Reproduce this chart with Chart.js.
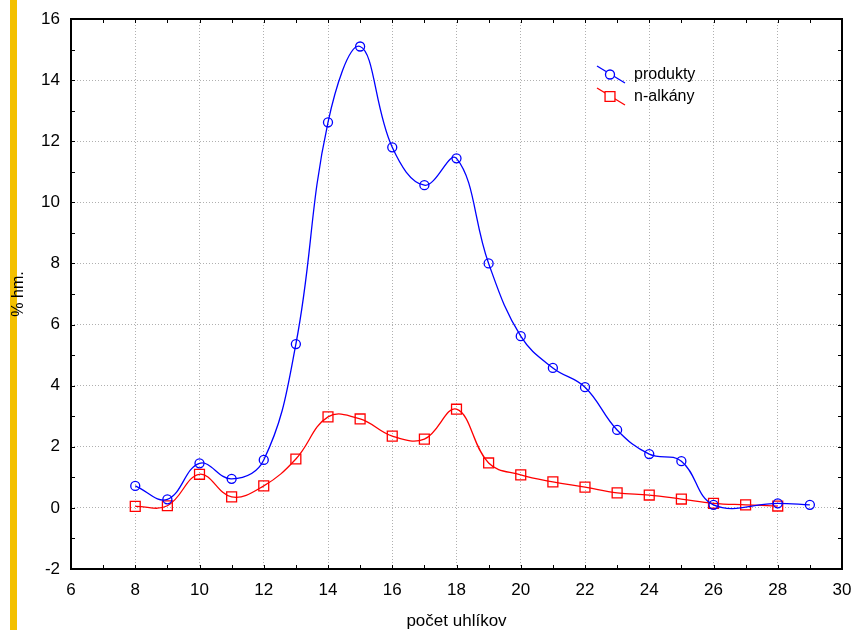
<!DOCTYPE html>
<html>
<head>
<meta charset="utf-8">
<script src="https://cdn.jsdelivr.net/npm/chart.js@4/dist/chart.umd.min.js"></script>
<style>
  html, body { margin: 0; padding: 0; background: #fff; }
  canvas { display: block; }
</style>
</head>
<body>
<canvas id="graf" width="854" height="630"></canvas>
<script>
// počet uhlíkov (x) a hodnoty v % hm.
var uhlikyProdukty = [8, 9, 10, 11, 12, 13, 14, 15, 16, 17, 18, 19, 20, 21, 22, 23, 24, 25, 26, 28, 29];
var produkty = [0.72, 0.28, 1.46, 0.95, 1.57, 5.36, 12.62, 15.1, 11.8, 10.56, 11.44, 8.0, 5.62, 4.58, 3.95, 2.55, 1.76, 1.53, 0.1, 0.15, 0.1];

var uhlikyAlkany = [8, 9, 10, 11, 12, 13, 14, 15, 16, 17, 18, 19, 20, 21, 22, 23, 24, 25, 26, 27, 28];
var nAlkany = [0.05, 0.07, 1.1, 0.36, 0.72, 1.6, 2.98, 2.91, 2.35, 2.25, 3.23, 1.47, 1.08, 0.85, 0.68, 0.49, 0.42, 0.29, 0.15, 0.1, 0.06];

var nazvySerii = ["produkty", "n-alkány"];
var osX = { min: 6, max: 30, krok: 1 };
var osY = { min: -2, max: 16, krok: 1 };

function body(xs, ys) {
    return xs.map(function (x, i) { return { x: x, y: ys[i] }; });
}

function mriezka(ctx) {
    return ctx.tick && ctx.tick.value % 2 === 0 ? "#b0b0b0" : "rgba(0,0,0,0)";
}

function popis(value) {
    return value % 2 === 0 ? value : "";
}

// zlty pruh vlavo
var pruhPlugin = {
    id: "pruh",
    beforeDraw: function (chart) {
        var ctx = chart.ctx;
        ctx.save();
        ctx.fillStyle = "#fff";
        ctx.fillRect(0, 0, chart.width, chart.height);
        ctx.fillStyle = "#f3c000";
        ctx.fillRect(10, 0, 7, chart.height);
        ctx.restore();
    }
};

// ramik grafu a kratke ciarky dovnutra
var ramikPlugin = {
    id: "ramik",
    afterDraw: function (chart) {
        var ctx = chart.ctx;
        var a = chart.chartArea;
        var sx = chart.scales.x, sy = chart.scales.y;
        ctx.save();
        ctx.strokeStyle = "#000";
        ctx.lineWidth = 1;
        ctx.beginPath();
        sx.ticks.forEach(function (t) {
            var px = Math.round(sx.getPixelForValue(t.value)) + 0.5;
            ctx.moveTo(px, a.bottom); ctx.lineTo(px, a.bottom - 4);
            ctx.moveTo(px, a.top); ctx.lineTo(px, a.top + 4);
        });
        sy.ticks.forEach(function (t) {
            var py = Math.round(sy.getPixelForValue(t.value)) + 0.5;
            ctx.moveTo(a.left, py); ctx.lineTo(a.left + 4, py);
            ctx.moveTo(a.right, py); ctx.lineTo(a.right - 4, py);
        });
        ctx.stroke();
        ctx.lineWidth = 2;
        ctx.strokeRect(a.left, a.top, a.right - a.left, a.bottom - a.top);
        ctx.restore();
    }
};

// legenda s sikmou ciarou ako v povodnom grafe
var legendaPlugin = {
    id: "legenda",
    afterDatasetsDraw: function (chart) {
        var ctx = chart.ctx;
        var x0 = 597, x1 = 625, tx = 634;
        var riadky = [66, 88];
        ctx.save();
        chart.data.datasets.forEach(function (ds, i) {
            var y0 = riadky[i];
            ctx.strokeStyle = ds.borderColor;
            ctx.lineWidth = ds.borderWidth;
            ctx.beginPath();
            ctx.moveTo(x0, y0);
            ctx.lineTo(x1, y0 + 17);
            ctx.stroke();
            ctx.fillStyle = "#fff";
            Chart.helpers.drawPoint(ctx, {
                pointStyle: ds.pointStyle,
                radius: ds.pointRadius,
                borderWidth: ds.borderWidth,
                rotation: 0
            }, (x0 + x1) / 2 - 1, y0 + 8.5);
            ctx.fillStyle = "#000";
            ctx.font = "16px 'Liberation Sans', Arial, sans-serif";
            ctx.textBaseline = "middle";
            ctx.fillText(ds.label, tx, y0 + 9);
        });
        ctx.restore();
    }
};

var ctx = document.getElementById("graf").getContext("2d");
var chart = new Chart(ctx, {
    type: "line",
    data: {
        datasets: [
            {
                label: nazvySerii[0],
                data: body(uhlikyProdukty, produkty),
                borderColor: "#0000ff",
                backgroundColor: "rgba(0,0,0,0)",
                pointBackgroundColor: "rgba(0,0,0,0)",
                pointStyle: "circle",
                pointRadius: 4.5,
                borderWidth: 1.3,
                tension: 0.4
            },
            {
                label: nazvySerii[1],
                data: body(uhlikyAlkany, nAlkany),
                borderColor: "#ff0000",
                backgroundColor: "rgba(0,0,0,0)",
                pointBackgroundColor: "rgba(0,0,0,0)",
                pointStyle: "rect",
                pointRadius: 7,
                borderWidth: 1.3,
                tension: 0.4
            }
        ]
    },
    options: {
        responsive: false,
        animation: false,
        devicePixelRatio: 1,
        layout: { padding: { top: 19, right: 12, left: 0, bottom: 0 } },
        plugins: {
            legend: { display: false },
            tooltip: { enabled: false }
        },
        scales: {
            x: {
                type: "linear",
                min: osX.min,
                max: osX.max,
                afterFit: function (s) {
                    s.height = 61;
                    s.paddingLeft = 0;
                    s.paddingRight = 0;
                },
                ticks: {
                    stepSize: osX.krok,
                    autoSkip: false,
                    maxRotation: 0,
                    padding: 11,
                    color: "#000",
                    font: { family: "'Liberation Sans', Arial, sans-serif", size: 17 },
                    callback: popis
                },
                grid: { color: mriezka, drawTicks: false, lineWidth: 1 },
                border: { display: false, dash: [1, 2] },
                title: {
                    display: true,
                    text: "počet uhlíkov",
                    color: "#000",
                    padding: { top: 0, bottom: 0 },
                    font: { family: "'Liberation Sans', Arial, sans-serif", size: 17, lineHeight: 1 }
                }
            },
            y: {
                min: osY.min,
                max: osY.max,
                afterFit: function (s) {
                    s.width = 71;
                    s.paddingTop = 0;
                    s.paddingBottom = 0;
                },
                ticks: {
                    stepSize: osY.krok,
                    autoSkip: false,
                    padding: 11,
                    color: "#000",
                    font: { family: "'Liberation Sans', Arial, sans-serif", size: 17 },
                    callback: popis
                },
                grid: { color: mriezka, drawTicks: false, lineWidth: 1 },
                border: { display: false, dash: [1, 2] },
                title: {
                    display: true,
                    text: "% hm.",
                    color: "#000",
                    padding: { top: 9, bottom: 0 },
                    font: { family: "'Liberation Sans', Arial, sans-serif", size: 16 }
                }
            }
        }
    },
    plugins: [pruhPlugin, ramikPlugin, legendaPlugin]
});
</script>
</body>
</html>
